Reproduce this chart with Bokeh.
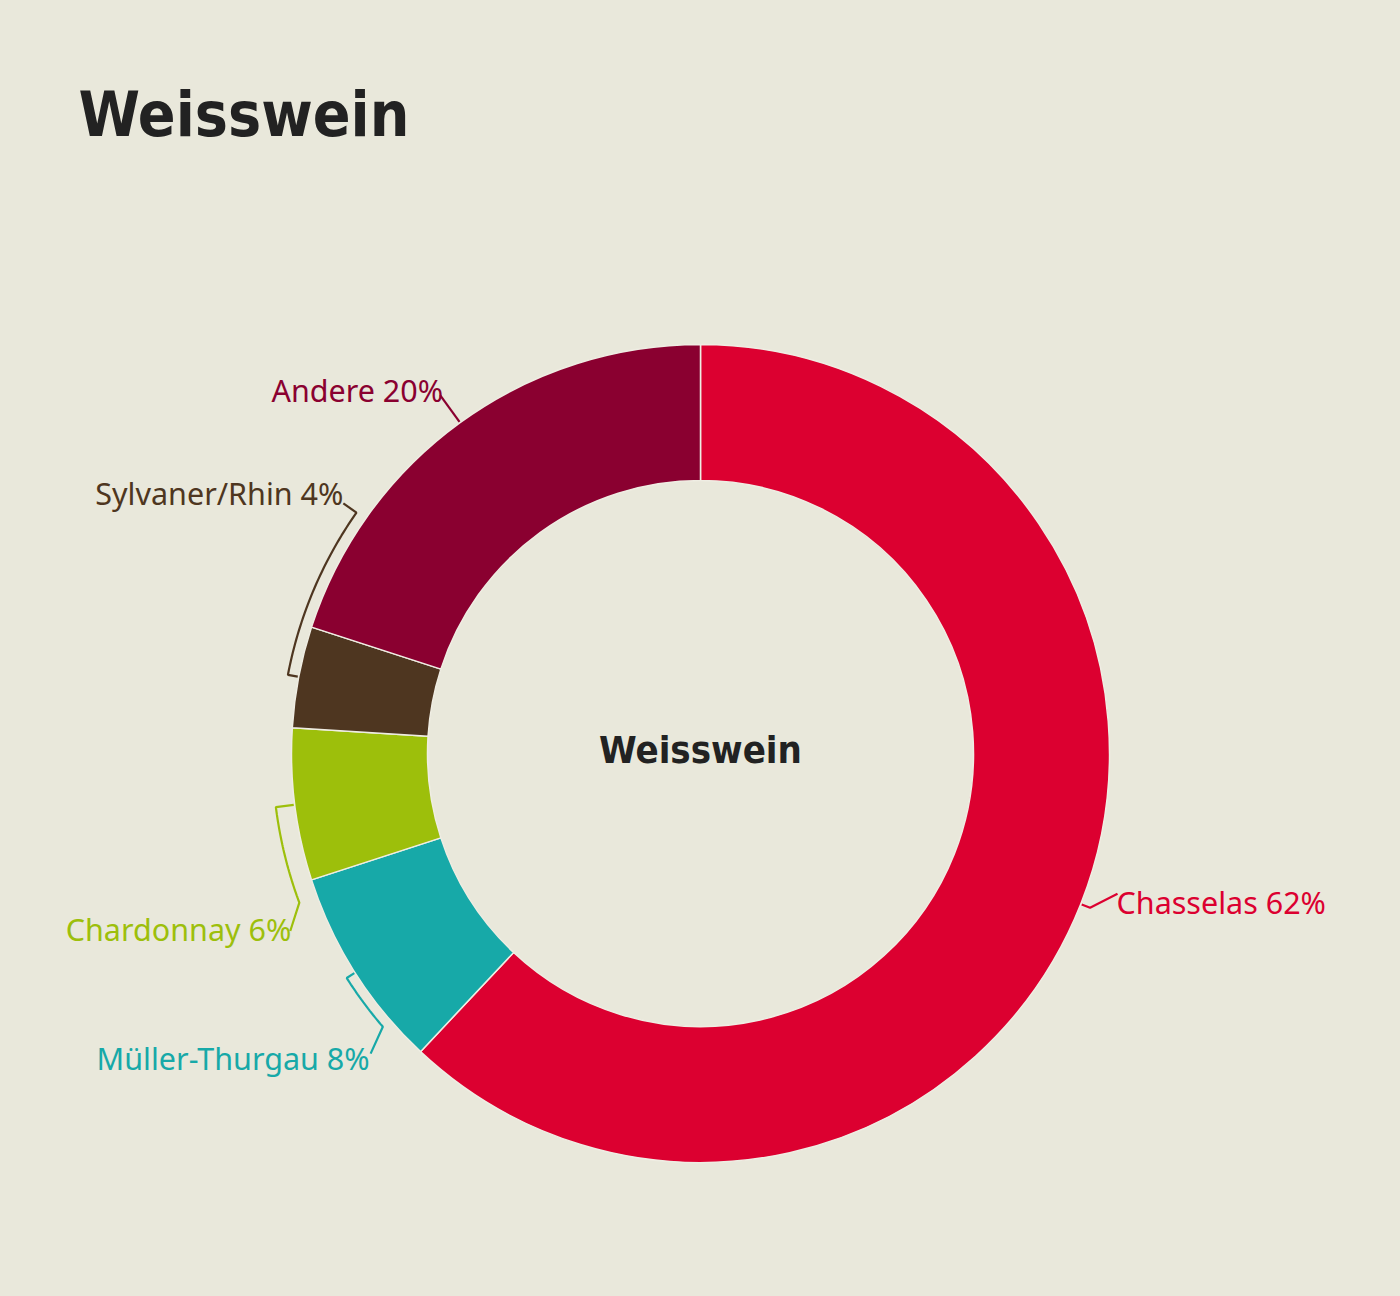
import numpy as np
from bokeh.plotting import figure
from bokeh.models import Range1d, ColumnDataSource
from bokeh.embed import file_html
from bokeh.resources import INLINE
from bokeh.core.properties import value

# ---------------- data ----------------
categories = ["Chasselas", "Müller-Thurgau", "Chardonnay", "Sylvaner/Rhin", "Andere"]
shares = [62, 8, 6, 4, 20]
colors = ["#DC0030", "#17A9A8", "#9DBF0B", "#4E3620", "#8A0030"]
title_text = "Weisswein"
center_text = "Weisswein"

# ---------------- layout ----------------
BG = "#E9E8DB"
W, H = 1384, 1280
PAGE_H = 1296
CX, CY_S = 700, 753          # donut centre (screen px)
R_OUT, R_IN = 409, 273
COND = "DejaVu Sans Condensed"

# per-label connector layout: bracket radius, arc end angle (None = slice middle),
# end radius, end angle (None = arc end), text align, text offset (screen px)
label_layout = [
    dict(rb=419, arc=None, re=440, ae=108.6, align="left", dx=-1, dy=8),
    dict(rb=419, arc=229.3, re=446, ae=227.7, align="right", dx=-1, dy=4),
    dict(rb=428, arc=249.6, re=447, ae=246.6, align="right", dx=1, dy=-2),
    dict(rb=420, arc=305.0, re=436, ae=305.0, align="right", dx=0, dy=-10),
    dict(rb=443, arc=None, re=443, ae=None, align="right", dx=3, dy=-5),
]


def sy(y_screen):
    return PAGE_H - y_screen


CY = sy(CY_S)


def pt(r, deg):
    t = np.deg2rad(deg)
    return CX + r * np.sin(t), CY + r * np.cos(t)


p = figure(width=W, height=H, x_range=Range1d(0, W), y_range=Range1d(PAGE_H - H, PAGE_H),
           output_backend="svg", toolbar_location=None, min_border=0,
           background_fill_color=BG, border_fill_color=BG, outline_line_color=None)
p.axis.visible = False
p.grid.visible = False

total = float(sum(shares))
cum_end = np.cumsum(shares) / total
cum_start = cum_end - np.array(shares) / total
start_deg = cum_start * 360.0
end_deg = cum_end * 360.0
mid_deg = (start_deg + end_deg) / 2.0

src = ColumnDataSource(dict(
    start=np.pi / 2 - np.deg2rad(start_deg),
    end=np.pi / 2 - np.deg2rad(end_deg),
    color=colors,
))
p.annular_wedge(x=CX, y=CY, inner_radius=R_IN, outer_radius=R_OUT,
                start_angle="start", end_angle="end", direction="clock",
                fill_color="color", line_color="#EFEDE3", line_width=1.5, source=src)

# labels + connectors
for cat, sh, col, m, lay in zip(categories, shares, colors, mid_deg, label_layout):
    xs, ys = [], []
    x0, y0 = pt(R_OUT + 1, m)
    xs.append(x0); ys.append(y0)
    arc_end = m if lay["arc"] is None else lay["arc"]
    angs = np.linspace(m, arc_end, 40)
    for a in angs:
        x, y = pt(lay["rb"], a)
        xs.append(x); ys.append(y)
    ae = arc_end if lay["ae"] is None else lay["ae"]
    xe, ye = pt(lay["re"], ae)
    xs.append(xe); ys.append(ye)
    p.line(xs, ys, line_color=col, line_width=2.2)
    p.text(x=[xe + lay["dx"]], y=[ye - lay["dy"]], text=[f"{cat} {sh}%"],
           text_color=col, text_font=value("Noto Sans"), text_font_size="30.5px",
           text_align=lay["align"], text_baseline="middle")

# centre label
p.text(x=[CX], y=[sy(749)], text=[center_text], text_color="#222222",
       text_font=value(COND), text_font_style="bold",
       text_font_size="38px", text_align="center", text_baseline="middle")

# title
p.text(x=[78], y=[sy(114)], text=[title_text], text_color="#222222",
       text_font=value(COND), text_font_style="bold",
       text_font_size="62px", text_align="left", text_baseline="middle")

html = file_html(p, INLINE)
html = html.replace("<head>", "<head><style>html,body{background:%s;}</style>" % BG, 1)
open("out.html", "w").write(html)
